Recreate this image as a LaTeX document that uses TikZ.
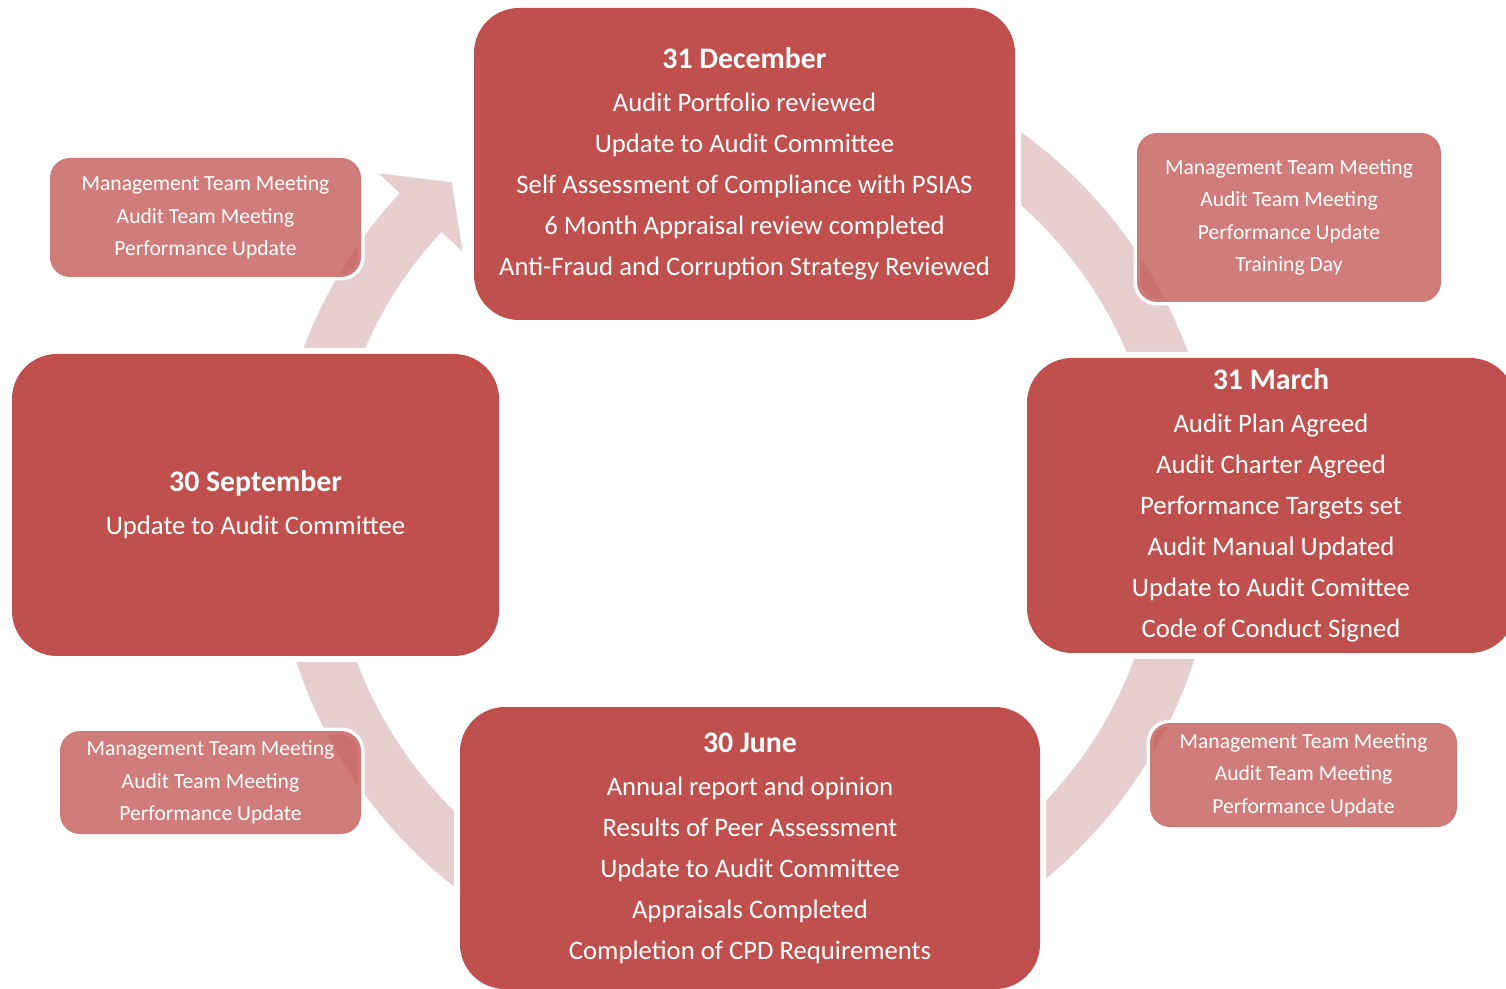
\documentclass[tikz,border=0pt]{standalone}
\usepackage{fontspec}
\setmainfont{Carlito}
\usetikzlibrary{calc}
\definecolor{boxred}{HTML}{C0504D}
\definecolor{arrowpink}{HTML}{E7CFD0}
\newcommand{\bodyfnt}{\fontsize{13.35}{20.5}\selectfont}
\newcommand{\headfnt}{\fontsize{14.9}{20.5}\selectfont\bfseries}
\newcommand{\smallfnt}{\fontsize{10.8}{16.25}\selectfont}
\begin{document}
\begin{tikzpicture}[x=0.5pt,y=-0.5pt,
  bigbox/.style={rounded corners=22.5pt, fill=boxred, inner sep=0pt, text=white,
    align=center, font=\bodyfnt, preaction={draw=white, line width=6pt}},
  smallbox/.style={rounded corners=10pt, fill=boxred, fill opacity=0.75, text opacity=1,
    text=white, inner sep=0pt, align=center, font=\smallfnt,
    preaction={draw=white, line width=3.5pt, draw opacity=1}},
  band/.style={fill=arrowpink}]
\useasboundingbox (0,0) rectangle (1506,989);
\coordinate (c) at (745,515);
% circular band
\fill[band] ($(c)+(-60:472)$) arc[start angle=-60,end angle=-15,radius=472]
  -- ($(c)+(-15:415)$) arc[start angle=-15,end angle=-60,radius=415] -- cycle;
\fill[band] ($(c)+(15:472)$) arc[start angle=15,end angle=60,radius=472]
  -- ($(c)+(60:415)$) arc[start angle=60,end angle=15,radius=415] -- cycle;
\fill[band] ($(c)+(120:472)$) arc[start angle=120,end angle=165,radius=472]
  -- ($(c)+(165:415)$) arc[start angle=165,end angle=120,radius=415] -- cycle;
\fill[band] ($(c)+(-165:472)$) arc[start angle=-165,end angle=-137,radius=472]
  -- ($(c)+(-137:501)$) -- ($(c)+(-131.4:443.5)$) -- ($(c)+(-137:386)$)
  -- ($(c)+(-137:415)$) arc[start angle=-137,end angle=-165,radius=415] -- cycle;
% big boxes
\node[bigbox, minimum width=270.5pt, minimum height=156pt] (dec) at (744.5,164)
  {{\headfnt 31 December}\\[1pt] Audit Portfolio reviewed\\ Update to Audit Committee\\
   Self Assessment of Compliance with PSIAS\\ 6 Month Appraisal review completed\\
   Anti-Fraud and Corruption Strategy Reviewed};
\node[bigbox, minimum width=244pt, minimum height=147.5pt] (mar) at (1271,505.5)
  {{\headfnt 31 March}\\[1pt] Audit Plan Agreed\\ Audit Charter Agreed\\ Performance Targets set\\
   Audit Manual Updated\\ Update to Audit Comittee\\ Code of Conduct Signed};
\node[bigbox, minimum width=290pt, minimum height=141pt] (jun) at (750,848)
  {{\headfnt 30 June}\\[1pt] Annual report and opinion\\ Results of Peer Assessment\\
   Update to Audit Committee\\ Appraisals Completed\\ Completion of CPD Requirements};
\node[bigbox, minimum width=243.5pt, minimum height=151pt] (sep) at (255.5,505)
  {{\headfnt 30 September}\\[1pt] Update to Audit Committee};
% small boxes
\node[smallbox, minimum width=155.5pt, minimum height=59.5pt] (tl) at (205.5,217.5)
  {Management Team Meeting\\ Audit Team Meeting\\ Performance Update};
\node[smallbox, minimum width=152pt, minimum height=84.5pt] (tr) at (1289,217.5)
  {Management Team Meeting\\ Audit Team Meeting\\ Performance Update\\ Training Day};
\node[smallbox, minimum width=153.5pt, minimum height=52pt] (br) at (1303.5,775)
  {Management Team Meeting\\ Audit Team Meeting\\ Performance Update};
\node[smallbox, minimum width=150.5pt, minimum height=51.5pt] (bl) at (210.5,782.5)
  {Management Team Meeting\\ Audit Team Meeting\\ Performance Update};
\end{tikzpicture}
\end{document}
